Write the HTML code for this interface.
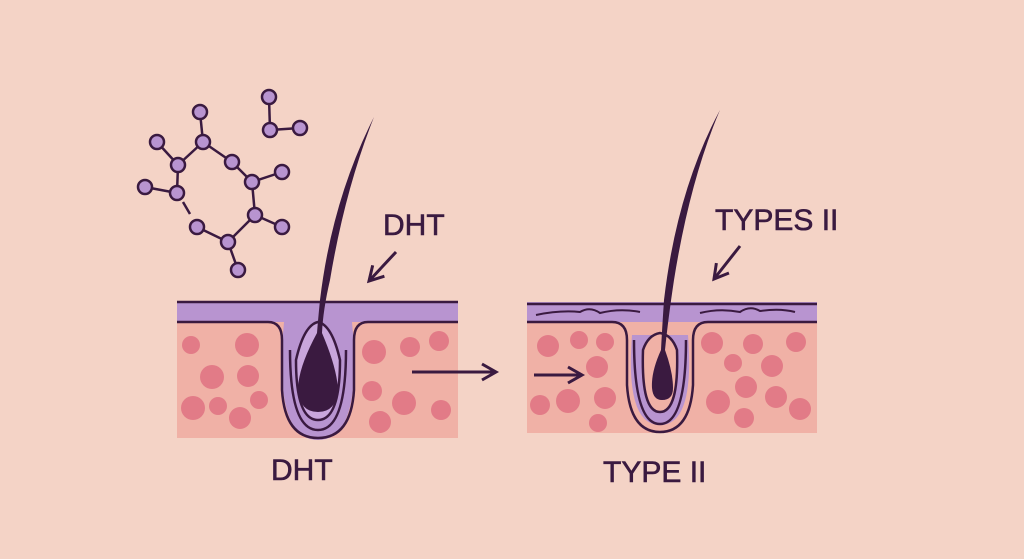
<!DOCTYPE html>
<html><head><style>body{margin:0;background:#f4d3c6}svg{display:block}</style></head><body>
<svg width="1024" height="559" viewBox="0 0 1024 559" xmlns="http://www.w3.org/2000/svg" font-family="Liberation Sans, sans-serif">
<rect width="1024" height="559" fill="#f4d3c6"/>
<defs>
<marker id="b" markerWidth="20" markerHeight="20" refX="16" refY="10" orient="auto" markerUnits="userSpaceOnUse"><path d="M2,2 L16,10 L2,18" fill="none" stroke="#3a1a40" stroke-width="3"/></marker></defs>
<g stroke="#3a1a40" stroke-width="2.5">
<line x1="200" y1="112" x2="203" y2="142"/><line x1="203" y1="142" x2="178" y2="165"/><line x1="157" y1="142" x2="178" y2="165"/><line x1="178" y1="165" x2="177" y2="193"/><line x1="145" y1="187" x2="177" y2="193"/><line x1="183" y1="202" x2="190" y2="214"/><line x1="203" y1="142" x2="232" y2="162"/><line x1="232" y1="162" x2="252" y2="182"/><line x1="252" y1="182" x2="282" y2="172"/><line x1="252" y1="182" x2="255" y2="215"/><line x1="255" y1="215" x2="282" y2="227"/><line x1="255" y1="215" x2="228" y2="242"/><line x1="228" y1="242" x2="197" y2="227"/><line x1="228" y1="242" x2="238" y2="270"/><line x1="269" y1="97" x2="270" y2="130"/><line x1="270" y1="130" x2="300" y2="128"/>
</g>
<g fill="#b894d0" stroke="#3a1a40" stroke-width="2.5">
<circle cx="200" cy="112" r="7"/><circle cx="269" cy="97" r="7"/><circle cx="203" cy="142" r="7"/><circle cx="157" cy="142" r="7"/><circle cx="178" cy="165" r="7"/><circle cx="232" cy="162" r="7"/><circle cx="282" cy="172" r="7"/><circle cx="252" cy="182" r="7"/><circle cx="145" cy="187" r="7"/><circle cx="177" cy="193" r="7"/><circle cx="255" cy="215" r="7"/><circle cx="282" cy="227" r="7"/><circle cx="197" cy="227" r="7"/><circle cx="228" cy="242" r="7"/><circle cx="238" cy="270" r="7"/><circle cx="270" cy="130" r="7"/><circle cx="300" cy="128" r="7"/>
</g>
<rect x="177" y="318" width="281" height="120" fill="#f0b1a6"/>
<rect x="177" y="302" width="281" height="20" fill="#b894d0"/>
<line x1="177" y1="302" x2="458" y2="302" stroke="#3a1a40" stroke-width="2.5"/>
<g fill="#e27b87">
<circle cx="191" cy="345" r="9"/><circle cx="247" cy="345" r="12"/><circle cx="212" cy="377" r="12"/><circle cx="248" cy="376" r="11"/><circle cx="193" cy="408" r="12"/><circle cx="218" cy="406" r="9"/><circle cx="240" cy="418" r="11"/><circle cx="259" cy="400" r="9"/><circle cx="374" cy="352" r="12"/><circle cx="410" cy="347" r="10"/><circle cx="439" cy="341" r="10"/><circle cx="372" cy="391" r="10"/><circle cx="404" cy="403" r="12"/><circle cx="441" cy="410" r="10"/><circle cx="380" cy="422" r="11"/>
</g>
<path d="M284,322 Q273,440 318,440 Q363,440 352,322 Z" fill="#b894d0"/>
<path d="M177,322 L268,322 Q282,322 282,340 L282,390 Q285,438 318,438 Q351,438 354,390 L354,340 Q354,322 368,322 L458,322" fill="none" stroke="#3a1a40" stroke-width="2.5"/>
<path d="M290,350 Q290,430 318,430 Q346,430 346,350" fill="none" stroke="#3a1a40" stroke-width="2.5"/>
<path d="M296,360 Q296,420 318,420 Q340,420 340,360 Q332,325 318,322 Q304,325 296,360Z" fill="#c9a6dc" stroke="#3a1a40" stroke-width="2.5"/>
<path d="M374,117 Q332,200 320,300 Q318,320 317,333 Q298,368 298,390 Q300,412 318,412 Q336,412 338,390 Q337,368 322,333 Q323,310 330,280 Q345,190 374,117Z" fill="#3a1a40"/>
<rect x="527" y="318" width="290" height="115" fill="#f0b1a6"/>
<rect x="527" y="302" width="290" height="20" fill="#b894d0"/>
<line x1="527" y1="304" x2="817" y2="304" stroke="#3a1a40" stroke-width="2.5"/>
<path d="M536,315 Q560,310 580,312 Q590,306 600,313 Q620,308 640,312 M700,313 Q720,308 740,312 Q750,305 760,311 Q780,308 795,312" fill="none" stroke="#3a1a40" stroke-width="2"/>
<g fill="#e27b87">
<circle cx="548" cy="346" r="11"/><circle cx="579" cy="340" r="9"/><circle cx="605" cy="342" r="9"/><circle cx="597" cy="367" r="11"/><circle cx="540" cy="405" r="10"/><circle cx="568" cy="401" r="12"/><circle cx="605" cy="398" r="11"/><circle cx="598" cy="423" r="9"/><circle cx="712" cy="343" r="11"/><circle cx="753" cy="344" r="10"/><circle cx="796" cy="342" r="10"/><circle cx="733" cy="363" r="9"/><circle cx="772" cy="366" r="11"/><circle cx="746" cy="387" r="11"/><circle cx="718" cy="402" r="12"/><circle cx="776" cy="397" r="11"/><circle cx="800" cy="409" r="11"/><circle cx="744" cy="418" r="10"/>
</g>
<path d="M624,322 Q616,432 660,432 Q704,432 696,322 Z" fill="#f0b1a6"/>
<path d="M632,335 Q625,425 660,425 Q695,425 688,335 Z" fill="#b894d0"/>
<path d="M527,322 L612,322 Q627,322 627,340 L627,385 Q630,432 660,432 Q690,432 693,385 L693,340 Q693,322 708,322 L817,322" fill="none" stroke="#3a1a40" stroke-width="2.5"/>
<path d="M634,340 Q634,424 660,424 Q686,424 686,340" fill="none" stroke="#3a1a40" stroke-width="2.5"/>
<path d="M643,350 Q641,412 660,412 Q679,412 677,350 Q672,335 660,333 Q648,335 643,350Z" fill="#f0b1a6" stroke="#3a1a40" stroke-width="2.5"/>
<path d="M720,110 Q677,190 664,300 Q662,330 661,350 Q651,372 652,388 Q653,400 662,400 Q673,400 673,388 Q673,372 665,350 Q668,320 674,280 Q690,180 720,110Z" fill="#3a1a40"/>
<g stroke="#3a1a40" stroke-width="3" fill="none">
<line x1="396" y1="252" x2="369" y2="281" marker-end="url(#b)"/>
<line x1="740" y1="246" x2="714" y2="279" marker-end="url(#b)"/>
<line x1="412" y1="372" x2="496" y2="372" marker-end="url(#b)"/>
<line x1="534" y1="375" x2="582" y2="375" marker-end="url(#b)"/>
</g>
<g fill="#3a1a40" font-size="30" stroke="#3a1a40" stroke-width="0.6">
<text x="383" y="235">DHT</text>
<text x="715" y="230">TYPES II</text>
<text x="271" y="480">DHT</text>
<text x="603" y="482">TYPE II</text>
</g>
</svg>
</body></html>
